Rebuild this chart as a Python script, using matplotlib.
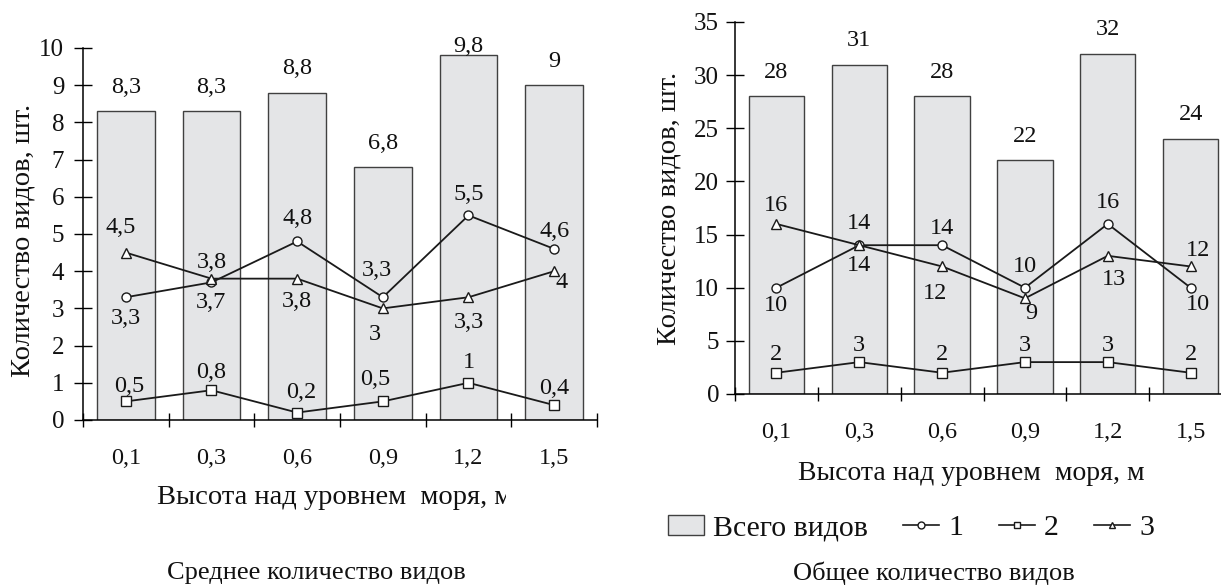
import numpy as np
import matplotlib.pyplot as plt
from matplotlib.lines import Line2D
from matplotlib.patches import Patch
from matplotlib.transforms import Bbox

plt.rcParams['font.family'] = ['Liberation Serif', 'DejaVu Serif']

heights = ['0,1', '0,3', '0,6', '0,9', '1,2', '1,5']

# Среднее количество видов
avg_total = [8.3, 8.3, 8.8, 6.8, 9.8, 9]
avg_s1 = [3.3, 3.7, 4.8, 3.3, 5.5, 4.6]
avg_s2 = [0.5, 0.8, 0.2, 0.5, 1, 0.4]
avg_s3 = [4.5, 3.8, 3.8, 3, 3.3, 4]

# Общее количество видов
sum_total = [28, 31, 28, 22, 32, 24]
sum_s1 = [10, 14, 14, 10, 16, 10]
sum_s2 = [2, 3, 2, 3, 3, 2]
sum_s3 = [16, 14, 12, 9, 13, 12]

# label offsets in pixels (dx, dy) for each point
off_left = {
    'bar': [(0, 24), (0, 24), (0, 24), (0, 24), (0, 9), (0, 24)],
    's1': [(0, -21), (0, -20), (0, 23), (-6, 27), (0, 21), (0, 17)],
    's2': [(3, 15), (0, 18), (4, 20), (-8, 22), (0, 20), (0, 17)],
    's3': [(-5, 25), (0, 16), (0, -23), (-8, -26), (0, -25), (7, -11)],
}
off_right = {
    'bar': [(0, 24)] * 6,
    's1': [(0, -18), (0, -20), (0, 17), (0, 21), (0, 21), (7, -17)],
    's2': [(0, 18), (0, 17), (0, 18), (0, 17), (0, 17), (0, 18)],
    's3': [(0, 18), (0, 22), (-7, -27), (6, -15), (6, -24), (7, 16)],
}

BAR_FC = '#e4e5e7'
BAR_EC = '#404040'
LINE_C = '#1a1a1a'
TXT_C = '#111111'


def fmt(v):
    return f'{v:g}'.replace('.', ',')


def panel(ax, total, s1, s2, s3, ymax, ystep, offs, ypad):
    x = np.arange(len(heights))
    ax.bar(x, total, width=0.67, color=BAR_FC, edgecolor=BAR_EC, linewidth=1.0, zorder=1)
    ax.plot(x, s1, color=LINE_C, lw=1.3, marker='o', ms=6.5, mfc='white', mec=LINE_C, mew=1.0, zorder=3)
    ax.plot(x, s2, color=LINE_C, lw=1.3, marker='s', ms=6.5, mfc='white', mec=LINE_C, mew=1.0, zorder=3)
    ax.plot(x, s3, color=LINE_C, lw=1.3, marker='^', ms=6.5, mfc='white', mec=LINE_C, mew=1.0, zorder=3)

    for key, vals in (('bar', total), ('s1', s1), ('s2', s2), ('s3', s3)):
        for i, v in enumerate(vals):
            ax.annotate(fmt(v), (x[i], v), xytext=offs[key][i], textcoords='offset pixels',
                        ha='center', va='center', fontsize=17.5, color=TXT_C, zorder=4)

    ax.set_xlim(-0.5, len(heights) - 0.5)
    ax.set_ylim(0, ymax)
    ax.set_yticks(np.arange(0, ymax + 1, ystep))
    ax.set_xticks(np.arange(-0.5, len(heights), 1.0))
    ax.set_xticklabels([])
    ax.set_xticks(x, minor=True)
    ax.set_xticklabels(heights, minor=True)
    ax.tick_params(axis='y', direction='inout', length=13, width=1, pad=ypad,
                   labelsize=18, labelcolor=TXT_C)
    ax.tick_params(axis='x', which='major', direction='inout', length=10, width=1)
    ax.tick_params(axis='x', which='minor', length=0, pad=20, labelsize=17.5, labelcolor=TXT_C)
    for s in ('top', 'right'):
        ax.spines[s].set_visible(False)
    for s in ('left', 'bottom'):
        ax.spines[s].set_linewidth(1.1)
        ax.spines[s].set_zorder(2)


fig = plt.figure(figsize=(12.21, 5.85), dpi=100)

ax1 = fig.add_axes([83 / 1221, 1 - 420 / 585, 514 / 1221, 372 / 585])
panel(ax1, avg_total, avg_s1, avg_s2, avg_s3, 10, 1, off_left, 7)

ax2 = fig.add_axes([735 / 1221, 1 - 394 / 585, 497 / 1221, 372 / 585])
panel(ax2, sum_total, sum_s1, sum_s2, sum_s3, 35, 5, off_right, 5)

ylab = 'Количество видов, шт.'
xlab = 'Высота над уровнем  моря, м'
fig.text(23 / 1221, 1 - 240 / 585, ylab, rotation=90, ha='center', va='center',
         fontsize=20.5, color=TXT_C)
fig.text(669 / 1221, 1 - 208 / 585, ylab, rotation=90, ha='center', va='center',
         fontsize=20.5, color=TXT_C)

# the left axis title is cut off at the right in the original
t = fig.text(335 / 1221, 1 - 497 / 585, xlab, ha='center', va='center', fontsize=20.5, color=TXT_C)
t.set_clip_box(Bbox.from_extents(0, 0, 506, 585))
t.set_clip_on(True)
fig.text(971 / 1221, 1 - 473 / 585, xlab, ha='center', va='center', fontsize=20, color=TXT_C)

fig.text(316 / 1221, 1 - 573 / 585, 'Среднее количество видов', ha='center', va='center',
         fontsize=19, color=TXT_C)
fig.text(934 / 1221, 1 - 573 / 585, 'Общее количество видов', ha='center', va='center',
         fontsize=19, color=TXT_C)

handles = [
    Patch(facecolor=BAR_FC, edgecolor=BAR_EC, linewidth=1.0),
    Line2D([], [], color=LINE_C, lw=1.2, marker='o', ms=5, mfc='white', mec=LINE_C),
    Line2D([], [], color=LINE_C, lw=1.2, marker='s', ms=5, mfc='white', mec=LINE_C),
    Line2D([], [], color=LINE_C, lw=1.2, marker='^', ms=5, mfc='white', mec=LINE_C),
]
fig.legend(handles, ['Всего видов', '1', '2', '3'], loc='center', ncol=4,
           bbox_to_anchor=(911 / 1221, 1 - 528 / 585), frameon=False, fontsize=21.5,
           handlelength=1.2, handletextpad=0.3, columnspacing=1.2, borderpad=0,
           labelcolor=TXT_C)

fig.savefig('out.png', dpi=100)
